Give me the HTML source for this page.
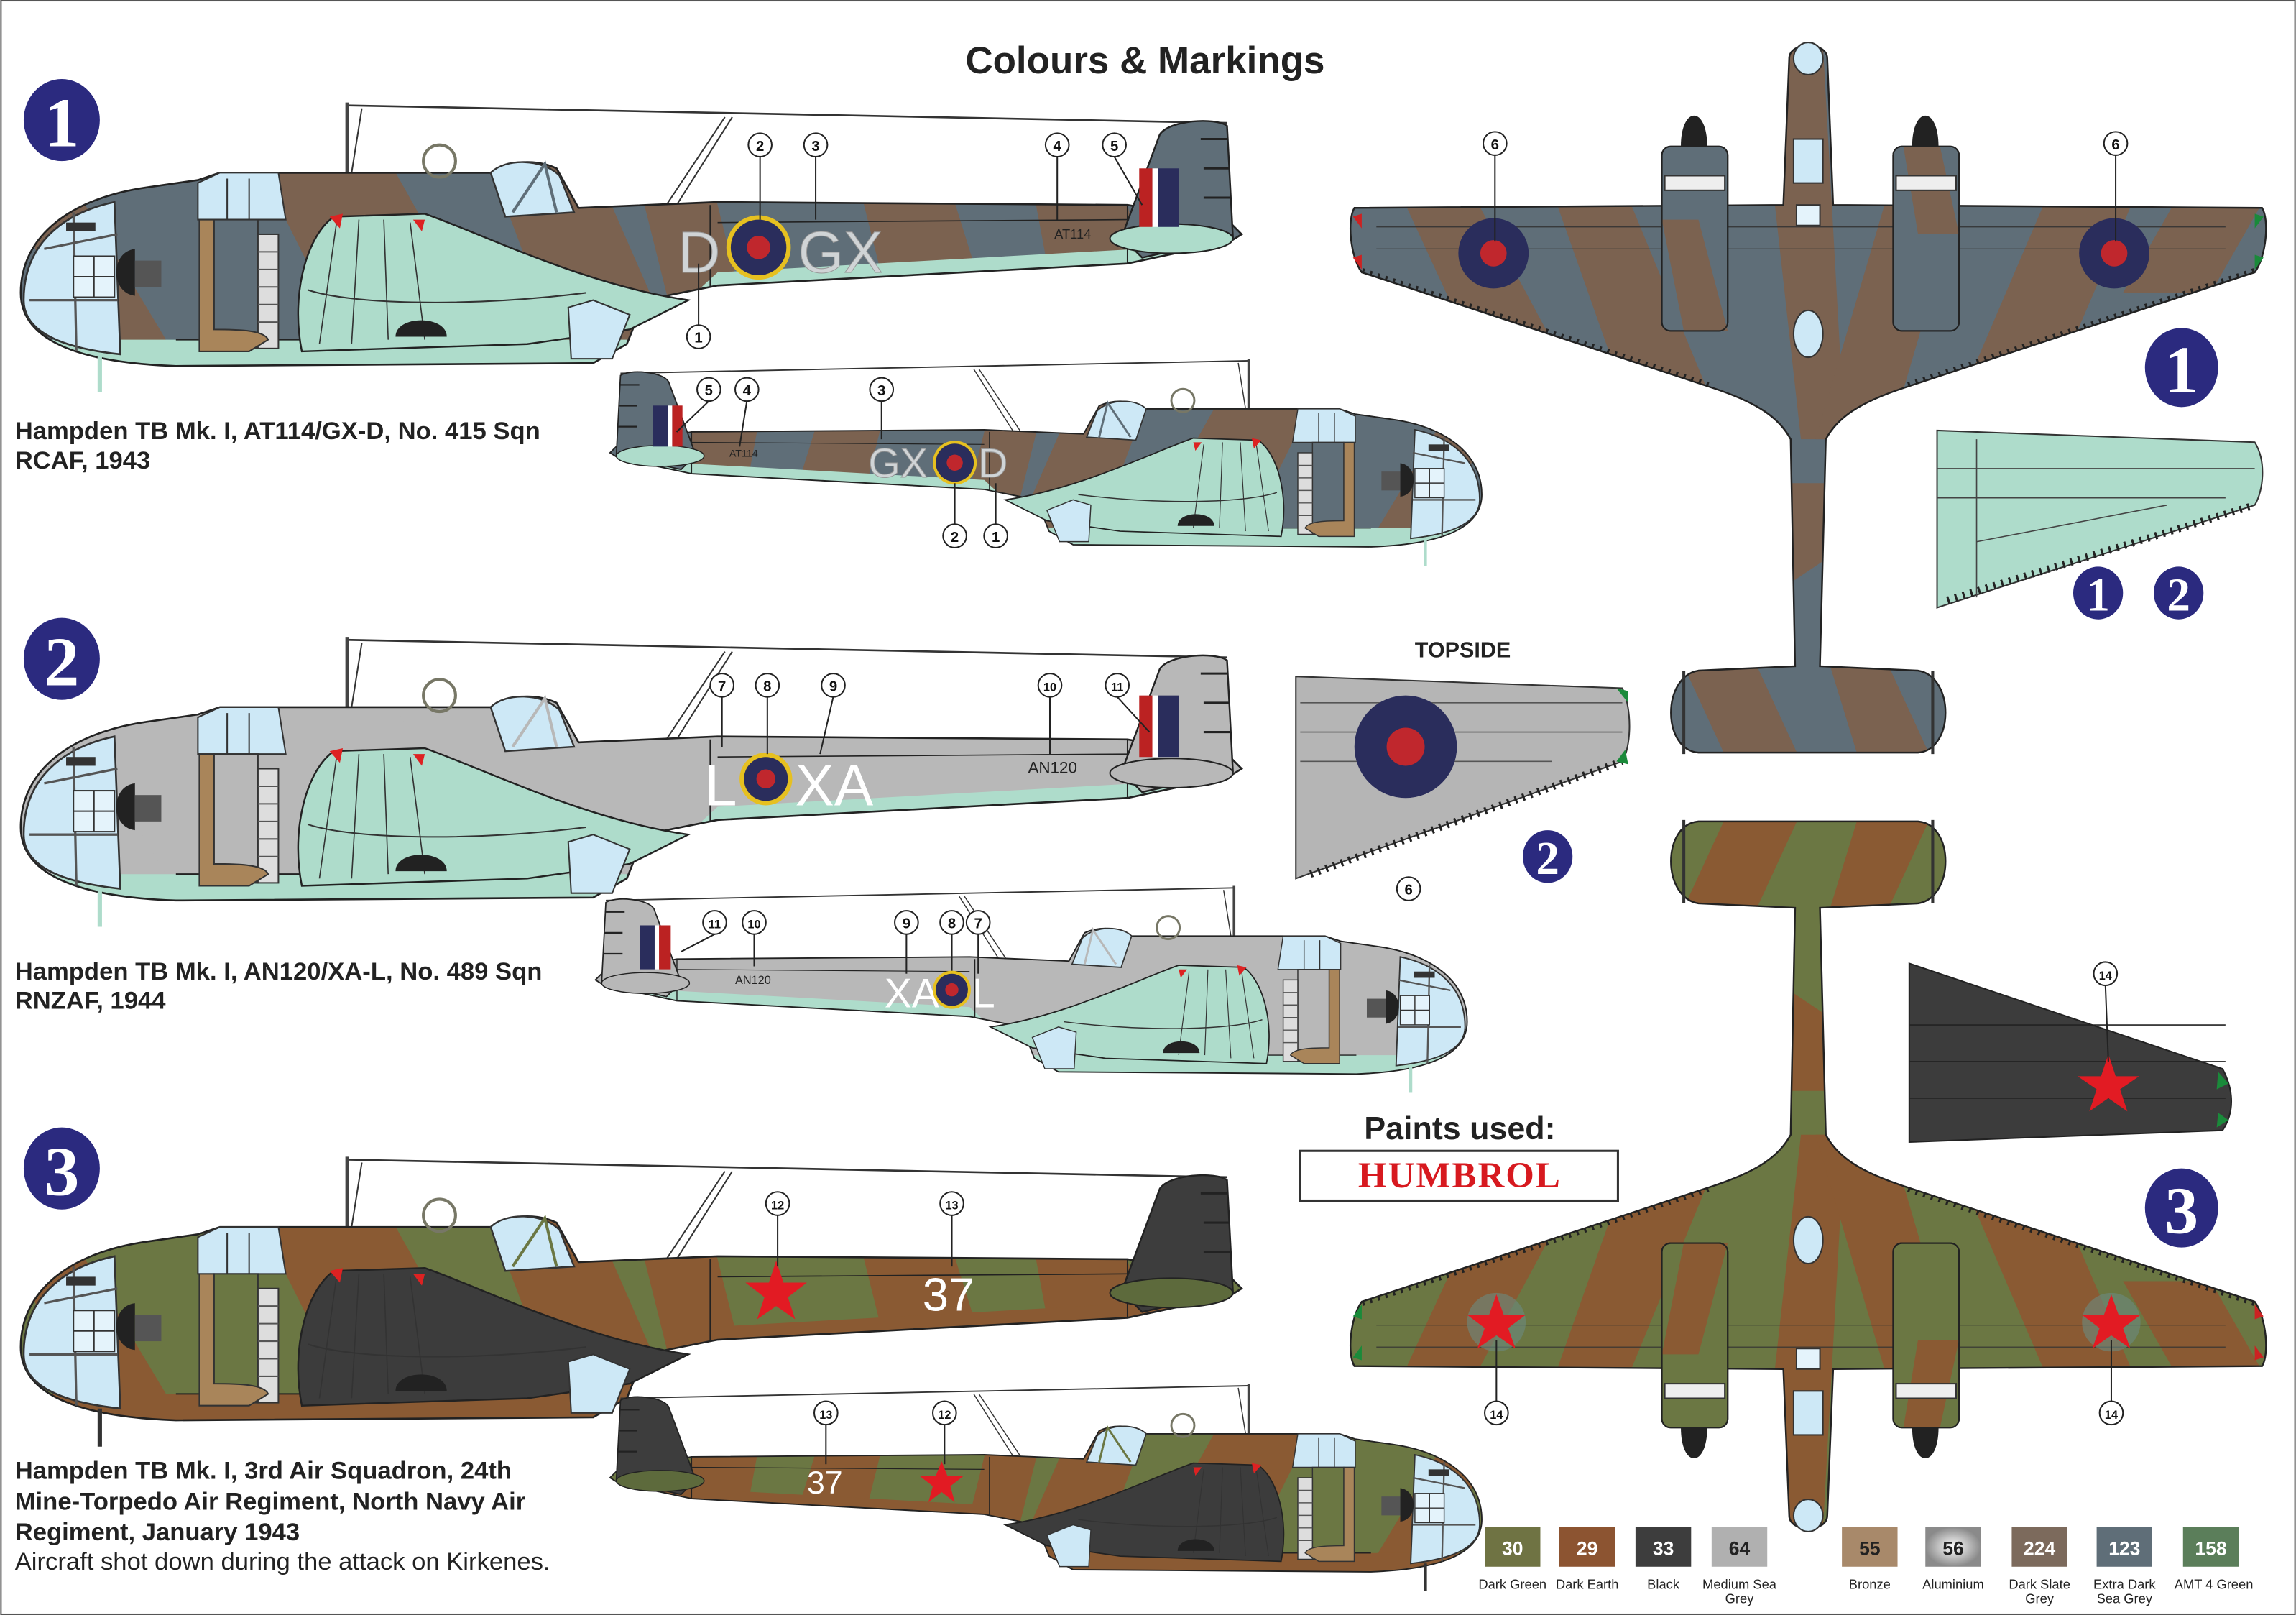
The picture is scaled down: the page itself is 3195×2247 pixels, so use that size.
<!DOCTYPE html>
<html><head><meta charset="utf-8"><style>
html,body{margin:0;padding:0;background:#fff}
svg{display:block}
.t{font-family:"Liberation Sans",sans-serif}
.cn{font-family:"Liberation Sans",sans-serif;font-size:10px;text-anchor:middle;font-weight:bold}
.big{font-family:"Liberation Serif",serif;font-weight:bold;fill:#fff;text-anchor:middle}
</style></head><body>
<svg width="3195" height="2247" viewBox="0 0 1568 1103" xmlns="http://www.w3.org/2000/svg">
<defs>
<clipPath id="fc"><path d="M14,200 C14,160 50,135 100,128 L135,123 L150,118 L335,118 C345,110 365,108 380,115 L395,142 L490,138 L770,140 L840,152 L848,160 L840,165 L770,180 L490,195 L440,205 L428,235 L405,248 L120,250 C60,248 14,235 14,200 Z"/></clipPath>
<clipPath id="tc"><path d="M1222,40 C1222,28 1248,28 1248,40 L1252,140 L1545,142 C1550,150 1548,175 1540,186 L1300,265 C1270,275 1255,285 1247,300 L1243,455 L1310,458 C1335,462 1335,512 1310,514 L1160,514 C1135,512 1135,462 1160,458 L1226,455 L1223,300 C1215,285 1200,275 1170,265 L930,186 C922,175 920,150 925,142 L1218,140 Z"/></clipPath>
<symbol id="side" viewBox="0 0 1568 1103" width="1568" height="1103" overflow="visible">
  <line x1="237" y1="72" x2="838" y2="84" stroke="#333" stroke-width="1.3"/>
  <line x1="237" y1="70" x2="237" y2="120" stroke="#444" stroke-width="2.5"/>
  <line x1="247" y1="74" x2="240" y2="118" stroke="#333" stroke-width="1"/>
  <line x1="495" y1="80" x2="455" y2="140" stroke="#333" stroke-width="1"/>
  <line x1="500" y1="80" x2="462" y2="140" stroke="#333" stroke-width="1"/>
  <g clip-path="url(#fc)">
    <rect x="0" y="90" width="860" height="200" fill="var(--base)"/>
    <polygon points="0,110 40,110 130,260 60,260" fill="var(--band)"/>
    <polygon points="170,100 260,100 350,260 250,260" fill="var(--band)"/>
    <polygon points="330,100 400,100 470,260 390,260" fill="var(--band)"/>
    <polygon points="430,100 480,100 520,260 470,260" fill="var(--band)"/>
    <polygon points="580,100 640,100 690,260 620,260" fill="var(--band)"/>
    <polygon points="700,100 760,100 800,260 730,260" fill="var(--band)"/>
    <path d="M0,232 L440,232 L490,186 L850,166 L850,300 L0,300 Z" fill="var(--under)"/>
    <line x1="120" y1="232" x2="360" y2="232" stroke="#222" stroke-width="1"/>
    <line x1="490" y1="152" x2="770" y2="150" stroke="#222" stroke-width=".8"/>
  </g>
  <path d="M14,200 C14,160 50,135 100,128 L135,123 L150,118 L335,118 C345,110 365,108 380,115 L395,142 L490,138 L770,140 L840,152 L848,160 L840,165 L770,180 L490,195 L440,205 L428,235 L405,248 L120,250 C60,248 14,235 14,200 Z" fill="none" stroke="#222" stroke-width="1.3"/>
  <path d="M485,140 L485,196 M770,140 L770,180" stroke="#222" stroke-width="1" fill="none"/>
  <path d="M766,162 L792,92 C798,82 830,80 838,86 L842,162 L780,176 Z" fill="var(--fin)" stroke="#222" stroke-width="1.2"/>
  <path d="M820,95 L838,95 M822,115 L840,115 M822,135 L840,135" stroke="#222" stroke-width="1.5"/>
  <ellipse cx="800" cy="163" rx="42" ry="10" fill="var(--stab)" stroke="#222" stroke-width="1"/>
  <path d="M16,205 C16,165 45,145 78,138 L82,242 C45,238 16,228 16,205 Z" fill="#cde8f6" stroke="#333" stroke-width="1.3"/>
  <path d="M50,145 L52,240 M20,205 L80,205 M30,170 L80,160" stroke="#555" stroke-width="1.6" fill="none"/>
  <rect x="50" y="175" width="28" height="28" fill="#e4f3fb" stroke="#333"/>
  <line x1="64" y1="175" x2="64" y2="203" stroke="#333"/>
  <line x1="50" y1="189" x2="78" y2="189" stroke="#333"/>
  <path d="M92,170 C75,172 75,200 92,202 Z" fill="#222"/>
  <rect x="92" y="178" width="18" height="18" fill="#555"/>
  <rect x="45" y="152" width="20" height="6" fill="#333"/>
  <path d="M135,125 L150,118 L190,118 L195,150 L135,150 Z" fill="#cde8f6" stroke="#333"/>
  <path d="M155,122 L155,150 M170,122 L170,150" stroke="#333"/>
  <path d="M335,118 C345,108 370,108 382,120 L392,145 L345,148 Z" fill="#cde8f6" stroke="#333" stroke-width="1.2"/>
  <path d="M350,145 L372,112 L380,145" stroke="var(--base)" stroke-width="2" fill="none"/>
  <rect x="146" y="150" width="30" height="88" fill="var(--base)" stroke="#333"/>
  <rect x="176" y="160" width="14" height="78" fill="#ddd" stroke="#333"/>
  <path d="M176,172 H190 M176,184 H190 M176,196 H190 M176,208 H190 M176,220 H190" stroke="#555"/>
  <path d="M136,150 L146,150 L146,225 C160,225 180,225 183,232 L170,240 L136,240 Z" fill="var(--exh)" stroke="#333"/>
  <path d="M206,240 C198,200 210,160 228,148 L290,146 C330,160 400,195 470,205 L430,225 L360,235 Z" fill="var(--nac)" stroke="#222" stroke-width="1.2"/>
  <path d="M230,150 L218,235 M245,150 L240,235 M262,150 L265,232 M280,152 L290,232" stroke="#333" stroke-width=".8"/>
  <path d="M210,198 C240,208 320,210 400,200" stroke="#333" fill="none"/>
  <path d="M225,148 L234,146 L232,156 Z M282,150 L290,150 L288,158 Z" fill="#d22"/>
  <path d="M270,230 C270,215 305,215 305,230 Z" fill="#222"/>
  <circle cx="300" cy="110" r="11" fill="none" stroke="#776" stroke-width="2"/>
  <path d="M388,210 L405,205 L430,215 L418,245 L390,245 Z" fill="#cde8f6" stroke="#333"/>
  <line x1="68" y1="242" x2="68" y2="268" stroke="var(--pitot)" stroke-width="3"/>
</symbol>
<symbol id="top" viewBox="0 0 1568 1103" width="1568" height="1103" overflow="visible">
  <g clip-path="url(#tc)">
    <rect x="900" y="20" width="660" height="520" fill="var(--base)"/>
    <polygon points="960,140 1010,140 1080,270 1020,270" fill="var(--band)"/>
    <polygon points="1060,130 1110,130 1180,300 1120,300" fill="var(--band)"/>
    <polygon points="1200,30 1245,30 1260,300 1230,300" fill="var(--band)"/>
    <polygon points="1290,130 1340,130 1290,300 1240,300" fill="var(--band)"/>
    <polygon points="1400,130 1460,130 1400,270 1340,270" fill="var(--band)"/>
    <polygon points="1490,130 1550,130 1510,200 1450,200" fill="var(--band)"/>
    <polygon points="1220,330 1250,330 1250,380 1220,400" fill="var(--band)"/>
    <polygon points="1150,455 1200,455 1230,520 1180,520" fill="var(--band)"/>
    <polygon points="1250,455 1290,455 1320,520 1270,520" fill="var(--band)"/>
    <path d="M930,186 L1170,265 M1540,186 L1300,265" stroke="#222" stroke-width="6" stroke-dasharray="1.5,4" fill="none"/>
    <path d="M940,155 H1520 M940,170 H1520" stroke="#333" stroke-width=".6"/>
  </g>
  <path d="M1222,40 C1222,28 1248,28 1248,40 L1252,140 L1545,142 C1550,150 1548,175 1540,186 L1300,265 C1270,275 1255,285 1247,300 L1243,455 L1310,458 C1335,462 1335,512 1310,514 L1160,514 C1135,512 1135,462 1160,458 L1226,455 L1223,300 C1215,285 1200,275 1170,265 L930,186 C922,175 920,150 925,142 L1218,140 Z" fill="none" stroke="#222" stroke-width="1.2"/>
  <path d="M1148,100 C1148,72 1166,72 1166,100 Z M1306,100 C1306,72 1324,72 1324,100 Z" fill="#222"/>
  <rect x="1135" y="100" width="45" height="126" rx="6" fill="var(--base)" stroke="#222"/>
  <rect x="1293" y="100" width="45" height="126" rx="6" fill="var(--base)" stroke="#222"/>
  <polygon points="1135,150 1160,150 1180,226 1150,226" fill="var(--band)"/>
  <polygon points="1300,100 1325,100 1338,160 1310,160" fill="var(--band)"/>
  <rect x="1135" y="100" width="45" height="126" rx="6" fill="none" stroke="#222"/>
  <rect x="1293" y="100" width="45" height="126" rx="6" fill="none" stroke="#222"/>
  <rect x="1137" y="120" width="41" height="10" fill="#eee" stroke="#333"/>
  <rect x="1295" y="120" width="41" height="10" fill="#eee" stroke="#333"/>
  <ellipse cx="1235" cy="40" rx="10" ry="11" fill="#cde8f6" stroke="#333"/>
  <rect x="1225" y="95" width="20" height="30" fill="#cde8f6" stroke="#333"/>
  <rect x="1227" y="140" width="16" height="14" fill="#e4f3fb" stroke="#333"/>
  <ellipse cx="1235" cy="228" rx="10" ry="16" fill="#cde8f6" stroke="#333"/>
  <line x1="1150" y1="458" x2="1150" y2="515" stroke="#333" stroke-width="2"/>
  <line x1="1320" y1="458" x2="1320" y2="515" stroke="#333" stroke-width="2"/>
  <path d="M924,148 L930,146 L930,156 Z M924,176 L930,174 L930,184 Z" fill="var(--tipL)"/>
  <path d="M1546,148 L1540,146 L1540,156 Z M1546,176 L1540,174 L1540,184 Z" fill="var(--tipR)"/>
</symbol>
</defs>

<rect x="0.5" y="0.5" width="1567" height="1102" fill="#fff" stroke="#555" stroke-width="1"/>
<text x="782" y="50" class="t" font-size="26" font-weight="bold" text-anchor="middle" fill="#222">Colours &amp; Markings</text>

<use href="#side" style="--base:#5f6e78;--band:#7b6250;--under:#aedccb;--nac:#aedccb;--fin:#5f6e78;--stab:#aedccb;--exh:#a9855a;--pitot:#aedccb"/>
<use href="#side" transform="translate(1022,195) scale(-0.714,0.714)" style="--base:#5f6e78;--band:#7b6250;--under:#aedccb;--nac:#aedccb;--fin:#5f6e78;--stab:#aedccb;--exh:#a9855a;--pitot:#aedccb"/>
<use href="#side" transform="translate(0,365)" style="--base:#b8b8b8;--band:#b8b8b8;--under:#aedccb;--nac:#aedccb;--fin:#b8b8b8;--stab:#b8b8b8;--exh:#a9855a;--pitot:#aedccb"/>
<use href="#side" transform="translate(1012,555) scale(-0.714,0.714)" style="--base:#b8b8b8;--band:#b8b8b8;--under:#aedccb;--nac:#aedccb;--fin:#b8b8b8;--stab:#b8b8b8;--exh:#a9855a;--pitot:#aedccb"/>
<use href="#side" transform="translate(0,720)" style="--base:#6b7743;--band:#8a5a33;--under:#8a5a33;--nac:#3c3c3c;--fin:#3d3d3d;--stab:#5d6a3c;--exh:#a9855a;--pitot:#333"/>
<use href="#side" transform="translate(1022,895) scale(-0.714,0.714)" style="--base:#6b7743;--band:#8a5a33;--under:#8a5a33;--nac:#3c3c3c;--fin:#3d3d3d;--stab:#5d6a3c;--exh:#a9855a;--pitot:#333"/>

<g class="t" font-size="40" fill="#d0d4d6" stroke="#999" stroke-width=".5">
<text x="463" y="186">D</text><text x="545" y="186">GX</text></g>
<circle cx="518" cy="169" r="22" fill="#e6c020"/><circle cx="518" cy="169" r="19" fill="#2a2d5c"/><circle cx="518" cy="169" r="8" fill="#c0272d"/>
<text x="720" y="163" class="t" font-size="9" fill="#222">AT114</text>
<rect x="778" y="115" width="9" height="40" fill="#b22"/><rect x="787" y="115" width="4" height="40" fill="#fff"/><rect x="791" y="115" width="14" height="40" fill="#2a2d5c"/>
<g class="t" font-size="28" fill="#d0d4d6" stroke="#999" stroke-width=".5"><text x="593" y="326">GX</text><text x="668" y="326">D</text></g>
<circle cx="652" cy="316" r="15" fill="#e6c020"/><circle cx="652" cy="316" r="13" fill="#2a2d5c"/><circle cx="652" cy="316" r="5.5" fill="#c0272d"/>
<text x="498" y="312" class="t" font-size="7" fill="#222">AT114</text>
<rect x="446" y="277" width="10" height="28" fill="#2a2d5c"/><rect x="456" y="277" width="3" height="28" fill="#fff"/><rect x="459" y="277" width="7" height="28" fill="#b22"/>

<g class="t" font-size="40" fill="#fff"><text x="481" y="550">L</text><text x="543" y="550">XA</text></g>
<circle cx="523" cy="532" r="18" fill="#e6c020"/><circle cx="523" cy="532" r="15" fill="#2a2d5c"/><circle cx="523" cy="532" r="6.5" fill="#c0272d"/>
<text x="702" y="528" class="t" font-size="11" fill="#222">AN120</text>
<rect x="778" y="475" width="9" height="42" fill="#b22"/><rect x="787" y="475" width="4" height="42" fill="#fff"/><rect x="791" y="475" width="14" height="42" fill="#2a2d5c"/>
<g class="t" font-size="28" fill="#fff"><text x="604" y="688">XA</text><text x="664" y="688">L</text></g>
<circle cx="650" cy="676" r="13" fill="#e6c020"/><circle cx="650" cy="676" r="11" fill="#2a2d5c"/><circle cx="650" cy="676" r="4.5" fill="#c0272d"/>
<text x="502" y="672" class="t" font-size="8" fill="#222">AN120</text>
<rect x="437" y="632" width="10" height="30" fill="#2a2d5c"/><rect x="447" y="632" width="3" height="30" fill="#fff"/><rect x="450" y="632" width="8" height="30" fill="#b22"/>

<polygon points="530,861 535,876 551,876 538,886 543,901 530,892 517,901 522,886 509,876 525,876" fill="#e21b23"/>
<text x="630" y="895" class="t" font-size="32" fill="#fff">37</text>
<polygon points="643,998 647,1008 658,1008 649,1015 652,1026 643,1019 634,1026 637,1015 628,1008 639,1008" fill="#e21b23"/>
<text x="551" y="1020" class="t" font-size="22" fill="#fff">37</text>

<use href="#top" style="--base:#5f6e78;--band:#7b6250;--tipL:#c22;--tipR:#1a8a3a"/>
<use href="#top" transform="translate(0,1075) scale(1,-1)" style="--base:#6b7743;--band:#8a5a33;--tipL:#1a8a3a;--tipR:#c22"/>
<circle cx="1020" cy="173" r="24" fill="#2a2d5c"/><circle cx="1020" cy="173" r="9" fill="#c0272d"/>
<circle cx="1444" cy="173" r="24" fill="#2a2d5c"/><circle cx="1444" cy="173" r="9" fill="#c0272d"/>
<circle cx="1022" cy="903" r="20" fill="#6a8a80" opacity=".6"/>
<polygon points="1022,884 1027,898 1042,898 1030,907 1035,921 1022,912 1009,921 1014,907 1002,898 1017,898" fill="#e21b23"/>
<circle cx="1442" cy="903" r="20" fill="#6a8a80" opacity=".6"/>
<polygon points="1442,884 1447,898 1462,898 1450,907 1455,921 1442,912 1429,921 1434,907 1422,898 1437,898" fill="#e21b23"/>

<path d="M1323,294 L1540,302 C1548,315 1546,335 1540,345 L1323,415 Z" fill="#aedccb" stroke="#333"/>
<path d="M1350,300 L1350,408 M1323,320 H1540 M1323,340 H1520 M1350,370 L1480,345" stroke="#444" stroke-width=".8" fill="none"/>
<path d="M1330,410 L1540,345" stroke="#222" stroke-width="5" stroke-dasharray="1.5,4"/>
<path d="M885,462 L1108,470 C1115,485 1114,510 1108,520 L885,600 Z" fill="#b5b5b5" stroke="#333"/>
<path d="M888,480 H1108 M888,500 H1108 M888,520 H1060" stroke="#555" stroke-width=".8"/>
<path d="M895,597 L1108,520" stroke="#222" stroke-width="5" stroke-dasharray="1.5,4"/>
<circle cx="960" cy="510" r="35" fill="#2a2d5c"/><circle cx="960" cy="510" r="13" fill="#c0272d"/>
<path d="M1104,470 L1112,472 L1112,480 Z M1104,520 L1110,512 L1112,522 Z" fill="#1a8a3a"/>
<text x="999" y="449" class="t" font-size="15" font-weight="bold" text-anchor="middle" fill="#222">TOPSIDE</text>
<path d="M1304,658 L1518,730 C1526,745 1526,760 1518,772 L1304,780 Z" fill="#3c3c3c" stroke="#222"/>
<path d="M1304,700 H1520 M1304,725 H1520 M1304,750 H1520" stroke="#222" stroke-width=".8"/>
<polygon points="1440,720 1445,735 1461,735 1448,744 1453,759 1440,750 1427,759 1432,744 1419,735 1435,735" fill="#e21b23"/>
<path d="M1515,732 L1522,740 L1514,744 Z M1515,760 L1522,765 L1514,770 Z" fill="#1a8a3a"/>

<g>
<ellipse cx="42" cy="82" rx="26" ry="28" fill="#2b2a7f"/><text x="42" y="100" class="big" font-size="48">1</text>
<ellipse cx="42" cy="450" rx="26" ry="28" fill="#2b2a7f"/><text x="42" y="468" class="big" font-size="48">2</text>
<ellipse cx="42" cy="798" rx="26" ry="28" fill="#2b2a7f"/><text x="42" y="816" class="big" font-size="48">3</text>
<ellipse cx="1490" cy="251" rx="25" ry="27" fill="#2b2a7f"/><text x="1490" y="268" class="big" font-size="46">1</text>
<ellipse cx="1490" cy="825" rx="25" ry="27" fill="#2b2a7f"/><text x="1490" y="842" class="big" font-size="46">3</text>
<ellipse cx="1057" cy="585" rx="17" ry="18" fill="#2b2a7f"/><text x="1057" y="597" class="big" font-size="32">2</text>
<ellipse cx="1433" cy="405" rx="17" ry="18" fill="#2b2a7f"/><text x="1433" y="417" class="big" font-size="32">1</text>
<ellipse cx="1488" cy="405" rx="17" ry="18" fill="#2b2a7f"/><text x="1488" y="417" class="big" font-size="32">2</text>
</g>

<g fill="#fff" stroke="#222" stroke-width="1">
<line x1="477" y1="222" x2="477" y2="180"/><line x1="519" y1="107" x2="519" y2="150"/><line x1="557" y1="107" x2="557" y2="150"/><line x1="722" y1="107" x2="722" y2="150"/><line x1="761" y1="107" x2="780" y2="140"/>
<line x1="484" y1="274" x2="462" y2="295"/><line x1="510" y1="274" x2="505" y2="305"/><line x1="602" y1="274" x2="602" y2="300"/><line x1="652" y1="358" x2="652" y2="330"/><line x1="680" y1="358" x2="680" y2="330"/>
<line x1="493" y1="476" x2="493" y2="510"/><line x1="524" y1="476" x2="524" y2="515"/><line x1="569" y1="476" x2="560" y2="515"/><line x1="717" y1="476" x2="717" y2="515"/><line x1="763" y1="476" x2="785" y2="500"/>
<line x1="488" y1="638" x2="465" y2="650"/><line x1="515" y1="638" x2="515" y2="660"/><line x1="619" y1="638" x2="619" y2="665"/><line x1="650" y1="638" x2="650" y2="663"/><line x1="668" y1="638" x2="668" y2="665"/>
<line x1="531" y1="830" x2="531" y2="865"/><line x1="650" y1="830" x2="650" y2="865"/><line x1="564" y1="973" x2="564" y2="1000"/><line x1="645" y1="973" x2="645" y2="1000"/>
<line x1="1021" y1="106" x2="1021" y2="165"/><line x1="1445" y1="106" x2="1445" y2="165"/><line x1="1438" y1="673" x2="1440" y2="725"/><line x1="1022" y1="957" x2="1022" y2="915"/><line x1="1442" y1="957" x2="1442" y2="915"/>
<circle cx="477" cy="230" r="8"/><circle cx="519" cy="99" r="8"/><circle cx="557" cy="99" r="8"/><circle cx="722" cy="99" r="8"/><circle cx="761" cy="99" r="8"/>
<circle cx="484" cy="266" r="8"/><circle cx="510" cy="266" r="8"/><circle cx="602" cy="266" r="8"/><circle cx="652" cy="366" r="8"/><circle cx="680" cy="366" r="8"/>
<circle cx="493" cy="468" r="8"/><circle cx="524" cy="468" r="8"/><circle cx="569" cy="468" r="8"/><circle cx="717" cy="468" r="8"/><circle cx="763" cy="468" r="8"/>
<circle cx="488" cy="630" r="8"/><circle cx="515" cy="630" r="8"/><circle cx="619" cy="630" r="8"/><circle cx="650" cy="630" r="8"/><circle cx="668" cy="630" r="8"/>
<circle cx="531" cy="822" r="8"/><circle cx="650" cy="822" r="8"/><circle cx="564" cy="965" r="8"/><circle cx="645" cy="965" r="8"/>
<circle cx="1021" cy="98" r="8"/><circle cx="1445" cy="98" r="8"/><circle cx="962" cy="607" r="8"/><circle cx="1438" cy="665" r="8"/><circle cx="1022" cy="965" r="8"/><circle cx="1442" cy="965" r="8"/>
</g>
<g class="cn" fill="#111">
<text x="477" y="234">1</text><text x="519" y="103">2</text><text x="557" y="103">3</text><text x="722" y="103">4</text><text x="761" y="103">5</text>
<text x="484" y="270">5</text><text x="510" y="270">4</text><text x="602" y="270">3</text><text x="652" y="370">2</text><text x="680" y="370">1</text>
<text x="493" y="472">7</text><text x="524" y="472">8</text><text x="569" y="472">9</text><text x="717" y="472" font-size="8">10</text><text x="763" y="472" font-size="8">11</text>
<text x="488" y="634" font-size="8">11</text><text x="515" y="634" font-size="8">10</text><text x="619" y="634">9</text><text x="650" y="634">8</text><text x="668" y="634">7</text>
<text x="531" y="826" font-size="8">12</text><text x="650" y="826" font-size="8">13</text><text x="564" y="969" font-size="8">13</text><text x="645" y="969" font-size="8">12</text>
<text x="1021" y="102">6</text><text x="1445" y="102">6</text><text x="962" y="611">6</text><text x="1438" y="669" font-size="8">14</text><text x="1022" y="969" font-size="8">14</text><text x="1442" y="969" font-size="8">14</text>
</g>

<g class="t" font-size="17" font-weight="bold" fill="#222">
<text x="10" y="300">Hampden TB Mk. I, AT114/GX-D, No. 415 Sqn</text><text x="10" y="320">RCAF, 1943</text>
<text x="10" y="669">Hampden TB Mk. I, AN120/XA-L, No. 489 Sqn</text><text x="10" y="689">RNZAF, 1944</text>
<text x="10" y="1010">Hampden TB Mk. I, 3rd Air Squadron, 24th</text>
<text x="10" y="1031">Mine-Torpedo Air Regiment, North Navy Air</text>
<text x="10" y="1052">Regiment, January 1943</text>
</g>
<text x="10" y="1072" class="t" font-size="17" fill="#222">Aircraft shot down during the attack on Kirkenes.</text>

<text x="997" y="778" class="t" font-size="22" font-weight="bold" text-anchor="middle" fill="#222">Paints used:</text>
<rect x="888" y="786" width="217" height="34" fill="#fff" stroke="#333" stroke-width="1.5"/>
<text x="997" y="811" font-family="Liberation Serif,serif" font-size="25" font-weight="bold" text-anchor="middle" fill="#d7191f" letter-spacing="1">HUMBROL</text>
<defs><radialGradient id="al"><stop offset="0" stop-color="#fff"/><stop offset="1" stop-color="#8a8a8a"/></radialGradient></defs>
<g class="t" font-size="13" font-weight="bold" text-anchor="middle">
<rect x="1014" y="1043" width="38" height="27" fill="#6f7343"/><text x="1033" y="1062" fill="#fff">30</text>
<rect x="1065" y="1043" width="38" height="27" fill="#8c5431"/><text x="1084" y="1062" fill="#fff">29</text>
<rect x="1117" y="1043" width="38" height="27" fill="#3d3d3d"/><text x="1136" y="1062" fill="#fff">33</text>
<rect x="1169" y="1043" width="38" height="27" fill="#b0b0b0"/><text x="1188" y="1062" fill="#222">64</text>
<rect x="1258" y="1043" width="38" height="27" fill="#a8896a"/><text x="1277" y="1062" fill="#222">55</text>
<rect x="1315" y="1043" width="38" height="27" fill="url(#al)"/><text x="1334" y="1062" fill="#222">56</text>
<rect x="1374" y="1043" width="38" height="27" fill="#7c6a5c"/><text x="1393" y="1062" fill="#fff">224</text>
<rect x="1432" y="1043" width="38" height="27" fill="#5f6e78"/><text x="1451" y="1062" fill="#fff">123</text>
<rect x="1491" y="1043" width="38" height="27" fill="#5b7e5a"/><text x="1510" y="1062" fill="#fff">158</text>
</g>
<g class="t" font-size="9" text-anchor="middle" fill="#222">
<text x="1033" y="1085">Dark Green</text><text x="1084" y="1085">Dark Earth</text><text x="1136" y="1085">Black</text>
<text x="1188" y="1085">Medium Sea</text><text x="1188" y="1095">Grey</text>
<text x="1277" y="1085">Bronze</text><text x="1334" y="1085">Aluminium</text>
<text x="1393" y="1085">Dark Slate</text><text x="1393" y="1095">Grey</text>
<text x="1451" y="1085">Extra Dark</text><text x="1451" y="1095">Sea Grey</text>
<text x="1512" y="1085">AMT 4 Green</text>
</g>
</svg>
</body></html>
